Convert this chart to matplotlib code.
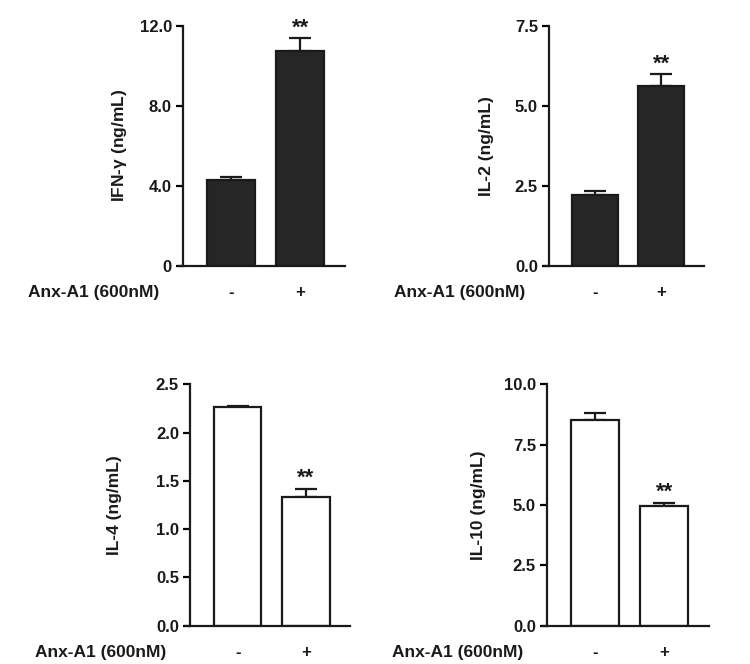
import numpy as np
import matplotlib
matplotlib.use('Agg')
import matplotlib.pyplot as plt

plt.rcParams['font.family'] = ['Liberation Sans', 'DejaVu Sans']
plt.rcParams['font.weight'] = 'bold'
plt.rcParams['mathtext.default'] = 'regular'

# data
groups = ['-', '+']
ifn_mean = [4.27, 10.73]
ifn_err = [0.16, 0.64]
il2_mean = [2.21, 5.63]
il2_err = [0.12, 0.35]
il4_mean = [2.27, 1.33]
il4_err = [0.01, 0.09]
il10_mean = [8.52, 4.96]
il10_err = [0.29, 0.14]

fig = plt.figure(figsize=(7.5, 6.64), dpi=100)
W, H = 750, 664


def make_axes(left, top, right, bottom):
    return fig.add_axes([left / W, 1 - bottom / H, (right - left) / W, (bottom - top) / H])


def panel(ax, means, errs, ticks, ticklabels, ylabel, color, labelpad):
    x = np.arange(len(means))
    ax.bar(x, means, width=0.7, color=color, edgecolor='#1a1a1a', linewidth=1.6, zorder=2)
    ax.errorbar(x, means, yerr=[[0] * len(errs), errs], fmt='none', ecolor='#1a1a1a',
                elinewidth=1.6, capsize=8, capthick=1.6, zorder=1)
    ax.set_xlim(-0.7, 1.65)
    ax.set_ylim(ticks[0], ticks[-1])
    ax.set_yticks(ticks, ticklabels)
    ax.set_xticks(x, groups)
    ax.spines['top'].set_visible(False)
    ax.spines['right'].set_visible(False)
    for s in ['left', 'bottom']:
        ax.spines[s].set_linewidth(1.6)
        ax.spines[s].set_color('#1a1a1a')
    ax.spines['bottom'].set_bounds(-0.76, 1.65)
    ax.tick_params(axis='y', direction='out', length=5, width=1.6, labelsize=12, pad=3,
                   labelcolor='#1a1a1a')
    ax.tick_params(axis='x', length=0, labelsize=12, pad=14, labelcolor='#1a1a1a')
    ax.set_ylabel(ylabel, fontsize=12.5, fontweight='bold', labelpad=labelpad, color='#1a1a1a')
    ax.annotate('Anx-A1 (600nM)', xy=(0, 0), xycoords='axes fraction', xytext=(-17, -19),
                textcoords='offset points', ha='right', va='center', fontsize=12.5,
                color='#1a1a1a')
    ax.annotate('**', xy=(1, means[1] + errs[1]), xytext=(0, 0), textcoords='offset points',
                ha='center', va='bottom', fontsize=16, color='#1a1a1a')


ax1 = make_axes(183, 25.7, 345, 265.7)
panel(ax1, ifn_mean, ifn_err, [0, 4, 8, 12], ['0', '4.0', '8.0', '12.0'],
      'IFN-$\\gamma$ (ng/mL)', '#262626', 8)

ax2 = make_axes(549, 25.7, 704, 265.7)
panel(ax2, il2_mean, il2_err, [0, 2.5, 5, 7.5], ['0.0', '2.5', '5.0', '7.5'],
      'IL-2 (ng/mL)', '#262626', 15)

ax3 = make_axes(190, 384.3, 350, 625.7)
panel(ax3, il4_mean, il4_err, [0, 0.5, 1, 1.5, 2, 2.5], ['0.0', '0.5', '1.0', '1.5', '2.0', '2.5'],
      'IL-4 (ng/mL)', 'white', 24)

ax4 = make_axes(547, 384.3, 709, 625.7)
panel(ax4, il10_mean, il10_err, [0, 2.5, 5, 7.5, 10], ['0.0', '2.5', '5.0', '7.5', '10.0'],
      'IL-10 (ng/mL)', 'white', 13)

fig.savefig('out.png', dpi=100, facecolor='white')
